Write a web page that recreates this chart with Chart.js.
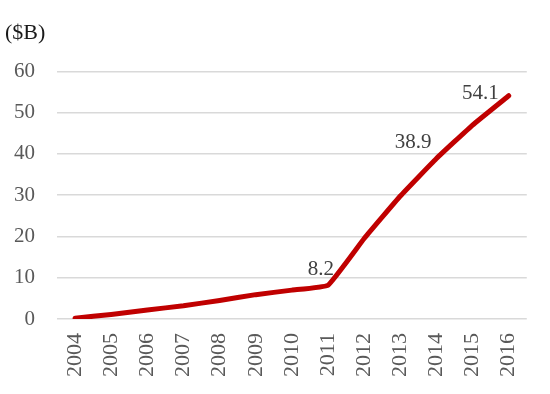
<!DOCTYPE html>
<html>
<head>
<meta charset="utf-8">
<script src="https://cdn.jsdelivr.net/npm/chart.js@4"></script>
<style>
  html, body { margin: 0; padding: 0; background: #fff; }
  #wrap { width: 550px; height: 394px; }
</style>
</head>
<body>
<div id="wrap"><canvas id="myChart"></canvas></div>
<script>
const years = ['2004', '2005', '2006', '2007', '2008', '2009', '2010', '2011', '2012', '2013', '2014', '2015', '2016'];
const revenue = [0.2, 1.1, 2.2, 3.2, 4.5, 5.9, 7.0, 8.2, 19.5, 29.8, 38.9, 47.0, 54.1];
const pointLabels = [null, null, null, null, null, null, null, '8.2', null, null, '38.9', null, '54.1'];
const yTicks = [0, 10, 20, 30, 40, 50, 60];

const serif = "'Liberation Serif', 'Times New Roman', serif";

// value labels: above-left of the point, the last one just left of the end
const valueLabels = {
  id: 'valueLabels',
  afterDatasetsDraw(chart) {
    const ctx = chart.ctx;
    const pts = chart.getDatasetMeta(0).data;
    ctx.save();
    ctx.font = '21px ' + serif;
    ctx.fillStyle = '#404040';
    ctx.textAlign = 'right';
    pts.forEach((pt, i) => {
      if (!pointLabels[i]) return;
      if (i === pts.length - 1) {
        ctx.textBaseline = 'middle';
        ctx.fillText(pointLabels[i], pt.x - 10, pt.y - 2);
      } else {
        ctx.textBaseline = 'bottom';
        ctx.fillText(pointLabels[i], pt.x + (i === 7 ? 6 : -5), pt.y - 5);
      }
    });
    ctx.restore();
  }
};

const ctx = document.getElementById('myChart');
const myChart = new Chart(ctx, {
  type: 'line',
  data: {
    labels: years,
    datasets: [{
      data: revenue,
      borderColor: '#C00000',
      borderWidth: 5,
      pointRadius: 0,
      tension: 0.1,
      borderCapStyle: 'round',
      borderJoinStyle: 'round',
    }],
  },
  options: {
    responsive: true,
    maintainAspectRatio: false,
    animation: false,
    layout: { padding: { left: 5, right: 23, top: 0, bottom: 3 } },
    plugins: {
      legend: { display: false },
      tooltip: { enabled: false },
      title: {
        display: true,
        text: '($B)',
        align: 'start',
        color: '#1a1a1a',
        font: { family: serif, size: 22, weight: 'normal' },
        padding: { top: 20, bottom: 25 },
      },
    },
    scales: {
      x: {
        offset: true,
        grid: { display: false, drawTicks: false },
        border: { display: false },
        ticks: {
          color: '#595959',
          font: { family: serif, size: 22 },
          minRotation: 90,
          maxRotation: 90,
          padding: 14,
        },
      },
      y: {
        min: 0,
        max: 60,
        afterBuildTicks(axis) { axis.ticks = yTicks.map(v => ({ value: v })); },
        afterFit(axis) { axis.width = 52; },
        grid: { color: '#d9d9d9', lineWidth: 1.5, drawTicks: false },
        border: { display: false },
        ticks: {
          color: '#595959',
          font: { family: serif, size: 21 },
          padding: 22,
        },
      },
    },
  },
  plugins: [valueLabels],
});
</script>
</body>
</html>
